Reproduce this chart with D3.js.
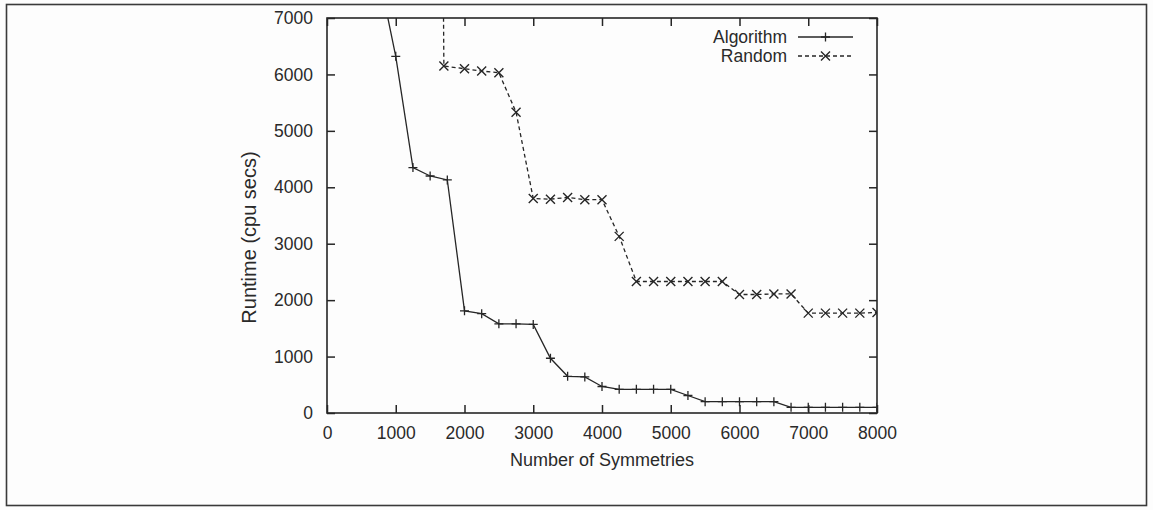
<!DOCTYPE html>
<html>
<head>
<meta charset="utf-8">
<script src="https://cdn.jsdelivr.net/npm/d3@7"></script>
<style>
  html, body { margin: 0; padding: 0; background: #fdfdfd; }
  svg { display: block; }
  text { font-family: "Liberation Sans", Arial, sans-serif; fill: #2a2a2a; }
</style>
</head>
<body>
<svg id="chart" width="1153" height="510"></svg>
<script>
// ---- data ----
const algorithmX = [750, 1000, 1250, 1500, 1750, 2000, 2250, 2500, 2750, 3000, 3250, 3500, 3750, 4000, 4250, 4500, 4750, 5000, 5250, 5500, 5750, 6000, 6250, 6500, 6750, 7000, 7250, 7500, 7750, 8000];
const algorithmY = [7800, 6320, 4350, 4200, 4130, 1810, 1760, 1580, 1580, 1570, 970, 650, 640, 470, 420, 420, 420, 420, 310, 200, 200, 200, 200, 200, 100, 100, 100, 100, 100, 100];
const randomX = [1500, 1700, 2000, 2250, 2500, 2750, 3000, 3250, 3500, 3750, 4000, 4250, 4500, 4750, 5000, 5250, 5500, 5750, 6000, 6250, 6500, 6750, 7000, 7250, 7500, 7750, 8000];
const randomY = [40000, 6150, 6100, 6060, 6030, 5330, 3800, 3790, 3820, 3780, 3780, 3130, 2330, 2330, 2330, 2330, 2330, 2330, 2100, 2100, 2110, 2110, 1770, 1770, 1770, 1770, 1780];
const xTicks = [0, 1000, 2000, 3000, 4000, 5000, 6000, 7000, 8000];
const yTicks = [0, 1000, 2000, 3000, 4000, 5000, 6000, 7000];
const seriesNames = ["Algorithm", "Random"];
const xTitle = "Number of Symmetries";
const yTitle = "Runtime (cpu secs)";

// ---- layout ----
const svg = d3.select("#chart");
const ink = "#262626";
const L = 327, R = 877, T = 18, B = 413;
const x = d3.scaleLinear().domain([0, 8000]).range([L, R]);
const y = d3.scaleLinear().domain([0, 7000]).range([B, T]);

// outer frame
svg.append("rect").attr("x", 6.5).attr("y", 4.5).attr("width", 1140).attr("height", 501)
  .attr("fill", "none").attr("stroke", "#3a3a3a").attr("stroke-width", 1.6);

// clip
svg.append("clipPath").attr("id", "plotclip").append("rect")
  .attr("x", L).attr("y", T).attr("width", R - L).attr("height", B - T);

const tickLen = 8;
const gx = svg.append("g").attr("transform", `translate(0,${B})`)
  .call(d3.axisBottom(x).tickValues(xTicks).tickSize(-tickLen).tickPadding(14).tickFormat(d3.format("d")));
const gy = svg.append("g").attr("transform", `translate(${L},0)`)
  .call(d3.axisLeft(y).tickValues(yTicks).tickSize(-tickLen).tickPadding(14).tickFormat(d3.format("d")));
const gt = svg.append("g").attr("transform", `translate(0,${T})`)
  .call(d3.axisTop(x).tickValues(xTicks).tickSize(-tickLen).tickFormat(""));
const gr = svg.append("g").attr("transform", `translate(${R},0)`)
  .call(d3.axisRight(y).tickValues(yTicks).tickSize(-tickLen).tickFormat(""));

[gx, gy, gt, gr].forEach(g => {
  g.select(".domain").remove();
  g.selectAll(".tick line").attr("stroke", ink).attr("stroke-width", 1.5);
  g.selectAll(".tick text").style("font-size", "17.5px").attr("fill", "#2a2a2a")
    .style("font-family", "'Liberation Sans', Arial, sans-serif");
});

// plot border
svg.append("rect").attr("x", L).attr("y", T).attr("width", R - L).attr("height", B - T)
  .attr("fill", "none").attr("stroke", ink).attr("stroke-width", 1.6);

// titles
svg.append("text").attr("x", (L + R) / 2).attr("y", 466).attr("text-anchor", "middle")
  .style("font-size", "18px").text(xTitle);
svg.append("text").attr("transform", `translate(256,${(T + B) / 2 + 22}) rotate(-90)`)
  .attr("text-anchor", "middle").style("font-size", "20px").text(yTitle);

// series
const line = d3.line().x(d => x(d[0])).y(d => y(d[1]));
const algData = algorithmX.map((v, i) => [v, algorithmY[i]]);
const rndData = randomX.map((v, i) => [v, randomY[i]]);

const plot = svg.append("g").attr("clip-path", "url(#plotclip)");
plot.append("path").datum(algData).attr("d", line)
  .attr("fill", "none").attr("stroke", ink).attr("stroke-width", 1.3);
plot.append("path").datum(rndData).attr("d", line)
  .attr("fill", "none").attr("stroke", ink).attr("stroke-width", 1.3).attr("stroke-dasharray", "4,3");

const ms = 4.5;
function plus(g, cx, cy) {
  g.append("path").attr("d", `M${cx - ms},${cy}H${cx + ms}M${cx},${cy - ms}V${cy + ms}`)
    .attr("stroke", ink).attr("stroke-width", 1.3).attr("fill", "none");
}
function cross(g, cx, cy) {
  g.append("path").attr("d", `M${cx - ms},${cy - ms}L${cx + ms},${cy + ms}M${cx - ms},${cy + ms}L${cx + ms},${cy - ms}`)
    .attr("stroke", ink).attr("stroke-width", 1.4).attr("fill", "none");
}
algData.forEach(d => plus(plot, x(d[0]), y(d[1])));
rndData.forEach(d => cross(plot, x(d[0]), y(d[1])));

// legend
const lg = svg.append("g");
const lx1 = 798, lx2 = 853, lxm = 825.5, lTextX = 787;
const rows = [37, 56];
lg.append("text").attr("x", lTextX).attr("y", rows[0] + 6).attr("text-anchor", "end")
  .style("font-size", "17.5px").text(seriesNames[0]);
lg.append("text").attr("x", lTextX).attr("y", rows[1] + 6).attr("text-anchor", "end")
  .style("font-size", "17.5px").text(seriesNames[1]);
lg.append("line").attr("x1", lx1).attr("x2", lx2).attr("y1", rows[0]).attr("y2", rows[0])
  .attr("stroke", ink).attr("stroke-width", 1.3);
plus(lg, lxm, rows[0]);
lg.append("line").attr("x1", lx1).attr("x2", lx2).attr("y1", rows[1]).attr("y2", rows[1])
  .attr("stroke", ink).attr("stroke-width", 1.3).attr("stroke-dasharray", "4,3");
cross(lg, lxm, rows[1]);
</script>
</body>
</html>
